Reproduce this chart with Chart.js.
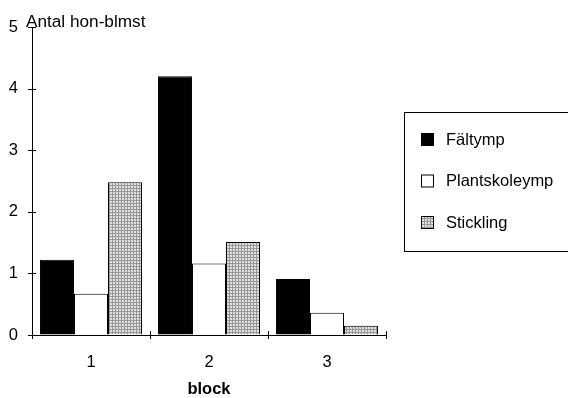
<!DOCTYPE html>
<html lang="sv">
<head>
<meta charset="UTF-8">
<title>Antal hon-blmst</title>
<style>
  html, body { margin: 0; padding: 0; background: #fff; }
  #wrap { width: 568px; height: 398px; }
</style>
</head>
<body>
<div id="wrap"><canvas id="chart" width="568" height="398"></canvas></div>
<script src="https://cdn.jsdelivr.net/npm/chart.js"></script>
<script>
  // data
  const blocks = ['1', '2', '3'];
  const faltymp = [1.22, 4.2, 0.91];
  const plantskoleymp = [0.67, 1.16, 0.36];
  const stickling = [2.48, 1.51, 0.15];
  const yTicks = [0, 1, 2, 3, 4, 5];

  const FONT = '"Liberation Sans", Arial, sans-serif';

  // dotted grey fill like the old spreadsheet pattern
  function makePattern() {
    const c = document.createElement('canvas');
    c.width = 3; c.height = 3;
    const g = c.getContext('2d');
    g.fillStyle = '#cfcfcf';
    g.fillRect(0, 0, 3, 3);
    g.fillStyle = '#979797';
    g.fillRect(1, 0, 1, 3);
    g.fillRect(0, 2, 3, 1);
    g.fillStyle = '#f2f2f2';
    g.fillRect(0, 1, 1, 1);
    g.fillRect(2, 0, 1, 1);
    return g.createPattern(c, 'repeat');
  }
  const hatch = makePattern();

  // tick marks crossing the axes + title + boxed legend
  const extras = {
    id: 'extras',
    afterDraw(chart) {
      const ctx = chart.ctx;
      const xs = chart.scales.x, ys = chart.scales.y;
      const a = chart.chartArea;
      ctx.save();
      ctx.strokeStyle = '#000';
      ctx.lineWidth = 1;
      ctx.beginPath();
      yTicks.forEach(v => {
        const y = Math.round(ys.getPixelForValue(v)) + 0.5;
        ctx.moveTo(a.left - 4, y);
        ctx.lineTo(a.left + 4, y);
      });
      for (let i = 0; i <= blocks.length; i++) {
        const x = Math.round(xs.getPixelForValue(i - 0.5)) + 0.5;
        ctx.moveTo(x, a.bottom - 4);
        ctx.lineTo(x, a.bottom + 4);
      }
      ctx.stroke();

      ctx.fillStyle = '#000';
      ctx.font = '17.2px ' + FONT;
      ctx.textAlign = 'left';
      ctx.textBaseline = 'alphabetic';
      ctx.fillText('Antal hon-blmst', 26, 27);

      // legend box
      ctx.font = '16.5px ' + FONT;
      ctx.strokeStyle = '#000';
      ctx.strokeRect(404.5, 112.5, 170, 139);
      const rows = [140, 181.5, 223];
      chart.data.datasets.forEach((ds, i) => {
        const cy = rows[i];
        ctx.fillStyle = ds.backgroundColor;
        ctx.fillRect(421, cy - 7, 13, 13);
        ctx.strokeStyle = '#000';
        ctx.strokeRect(421.5, cy - 6.5, 12, 12);
        ctx.fillStyle = '#000';
        ctx.textBaseline = 'middle';
        ctx.fillText(ds.label, 446, cy);
      });
      ctx.restore();
    }
  };

  new Chart(document.getElementById('chart'), {
    type: 'bar',
    data: {
      labels: blocks,
      datasets: [
        { label: 'Fältymp', data: faltymp, backgroundColor: '#000', borderColor: '#000', borderWidth: 1 },
        { label: 'Plantskoleymp', data: plantskoleymp, backgroundColor: '#fff', borderColor: '#000', borderWidth: 1 },
        { label: 'Stickling', data: stickling, backgroundColor: hatch, borderColor: '#000', borderWidth: 1 }
      ]
    },
    options: {
      responsive: false,
      animation: false,
      layout: { padding: { left: 0, top: 27, right: 182, bottom: 0 } },
      datasets: { bar: { categoryPercentage: 0.865, barPercentage: 1 } },
      plugins: {
        legend: { display: false },
        tooltip: { enabled: false }
      },
      scales: {
        x: {
          grid: { display: true, drawOnChartArea: false, drawTicks: false, offset: true },
          border: { display: true, color: '#000', width: 1 },
          ticks: { color: '#000', padding: 18, font: { family: FONT, size: 16.5 } },
          title: {
            display: true, text: 'block', color: '#000',
            font: { family: FONT, size: 16.5, weight: 'bold', lineHeight: 1 },
            padding: { top: 0, bottom: 0 }
          },
          afterFit(s) { s.height = 63; }
        },
        y: {
          min: 0, max: 5,
          grid: { display: true, drawOnChartArea: false, drawTicks: false },
          border: { display: true, color: '#000', width: 1 },
          ticks: { stepSize: 1, color: '#000', padding: 14, font: { family: FONT, size: 16.5 } },
          afterFit(s) { s.width = 32; }
        }
      }
    },
    plugins: [extras]
  });
</script>
</body>
</html>
